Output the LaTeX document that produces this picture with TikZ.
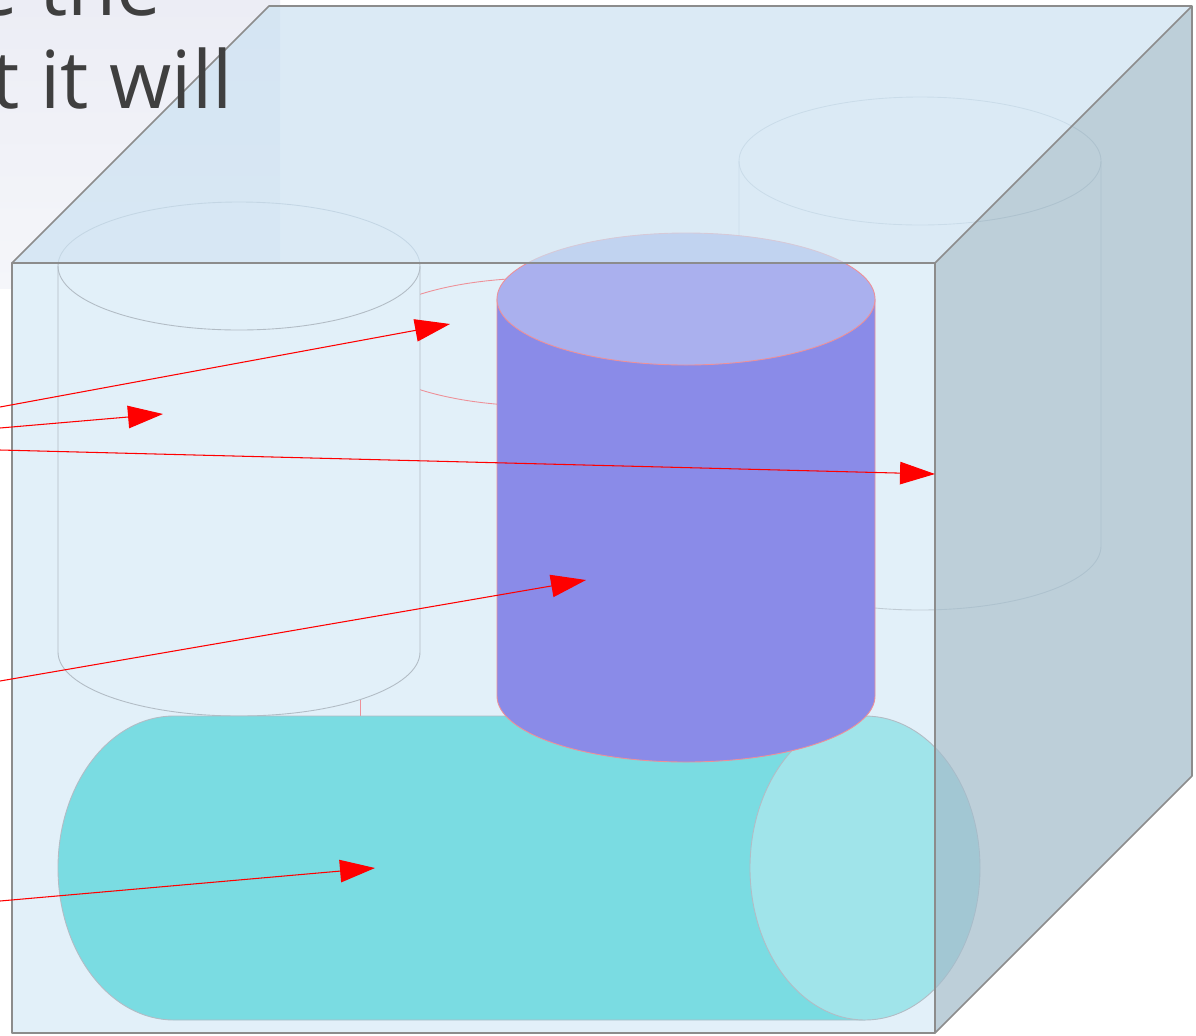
\documentclass[tikz,border=0pt]{standalone}
\usepackage{fontspec}
\setmainfont{Open Sans}
\usetikzlibrary{arrows.meta}
\definecolor{facefront}{HTML}{E2F0F9}
\definecolor{facetop}{RGB}{204,226,242}
\definecolor{faceright}{RGB}{164,189,203}
\definecolor{edgegray}{HTML}{8C8C8C}
\definecolor{cylgray}{HTML}{B2BCC5}
\definecolor{cylpink}{HTML}{EE9098}
\definecolor{cyanbody}{HTML}{7ADCE2}
\definecolor{cyanend}{HTML}{A0E4EA}
\definecolor{bluebody}{HTML}{8A8BE8}
\definecolor{bluetop}{HTML}{AAB0EE}
\definecolor{bgtop}{HTML}{ECEDF5}
\definecolor{bgbot}{HTML}{F5F6FA}
\definecolor{textgray}{HTML}{3F3F3F}
\begin{document}
\begin{tikzpicture}[x=0.02cm,y=-0.02cm]

    \tikzset{
      edge/.style={draw=edgegray,line width=0.9pt,line join=round},
      ghost/.style={draw=cylgray,line width=0.5pt},
      hidden/.style={draw=cylpink,line width=0.5pt},
      solid/.style={draw=cylpink,line width=0.5pt},
      pointer/.style={draw=red,line width=0.6pt,-{Triangle[length=0.7cm,width=0.45cm]}},
      caption/.style={inner sep=0pt,text=textgray,font=\fontsize{45.5}{54}\selectfont},
    }
    \useasboundingbox (0,0) rectangle (1196,1035);
    \clip (0,0) rectangle (1196,1035);
    \fill[white] (0,0) rectangle (1196,1035);
    \shade[top color=bgtop,bottom color=bgbot] (0,0) rectangle (280,288);

	% front face of the box
	\fill[facefront] (12,263) rectangle (935,1033);

	% cylinder at the back
	\draw[ghost,draw opacity=0.7] (920,161) ellipse[x radius=181,y radius=64];
	\draw[ghost,draw opacity=0.7] (739,161)--(739,546) arc[start angle=180,end angle=0,x radius=181,y radius=64]--(1101,161);

	% hidden cylinder
	\draw[hidden] (540,342) ellipse[x radius=180,y radius=64];
	\draw[hidden] (360,342)--(360,716);
	\draw[hidden] (720,342)--(720,716);

	% left cylinder
	\begin{scope}
	\clip (12,263) rectangle (935,1033);
	\fill[facefront] (58,266) arc[start angle=180,end angle=360,x radius=181,y radius=64]--(420,652) arc[start angle=0,end angle=180,x radius=181,y radius=64]--cycle;
	\end{scope}
	\draw[ghost] (239,266) ellipse[x radius=181,y radius=64];
	\draw[ghost] (58,266)--(58,652) arc[start angle=180,end angle=0,x radius=181,y radius=64]--(420,266);

	% lying cylinder
	\draw[ghost,fill=cyanbody] (865,716)--(174,716) arc[start angle=270,end angle=90,x radius=116,y radius=152]--(865,1020)--cycle;
	\draw[ghost,fill=cyanend] (865,868) ellipse[x radius=115,y radius=152];

	% standing cylinder
	\draw[solid,fill=bluebody] (497,299)--(497,696) arc[start angle=180,end angle=0,x radius=189,y radius=66]--(875,299)--cycle;
	\draw[solid,fill=bluetop] (686,299) ellipse[x radius=189,y radius=66];

	% top and right faces
	\fill[facetop,fill opacity=0.7] (12,263)--(269,6)--(1192,6)--(935,263)--cycle;
	\fill[faceright,fill opacity=0.72] (935,263)--(1192,6)--(1192,776)--(935,1033)--cycle;

	% edges of the box
	\draw[edge] (12,263) rectangle (935,1033);
	\draw[edge] (12,263)--(269,6)--(1192,6)--(935,263);
	\draw[edge] (1192,6)--(1192,776)--(935,1033);

	% arrows
	\coordinate (src1) at (0,407);
	\coordinate (src2) at (0,428);
	\coordinate (src3) at (0,450);
	\coordinate (src4) at (0,681);
	\coordinate (src5) at (0,901);
	\coordinate (tip1) at (450,324);
	\coordinate (tip2) at (163,414);
	\coordinate (tip3) at (935,474);
	\coordinate (tip4) at (586,580);
	\coordinate (tip5) at (375,868);
	\draw[pointer] (src1)--(tip1);
	\draw[pointer] (src2)--(tip2);
	\draw[pointer] (src3)--(tip3);
	\draw[pointer] (src4)--(tip4);
	\draw[pointer] (src5)--(tip5);

	% text cut by the frame
	\node[caption,anchor=base east] (lineone) at (162,15) {e the};
	\node[caption,anchor=base east] (linetwo) at (233,108) {t it will};

\end{tikzpicture}
\end{document}
